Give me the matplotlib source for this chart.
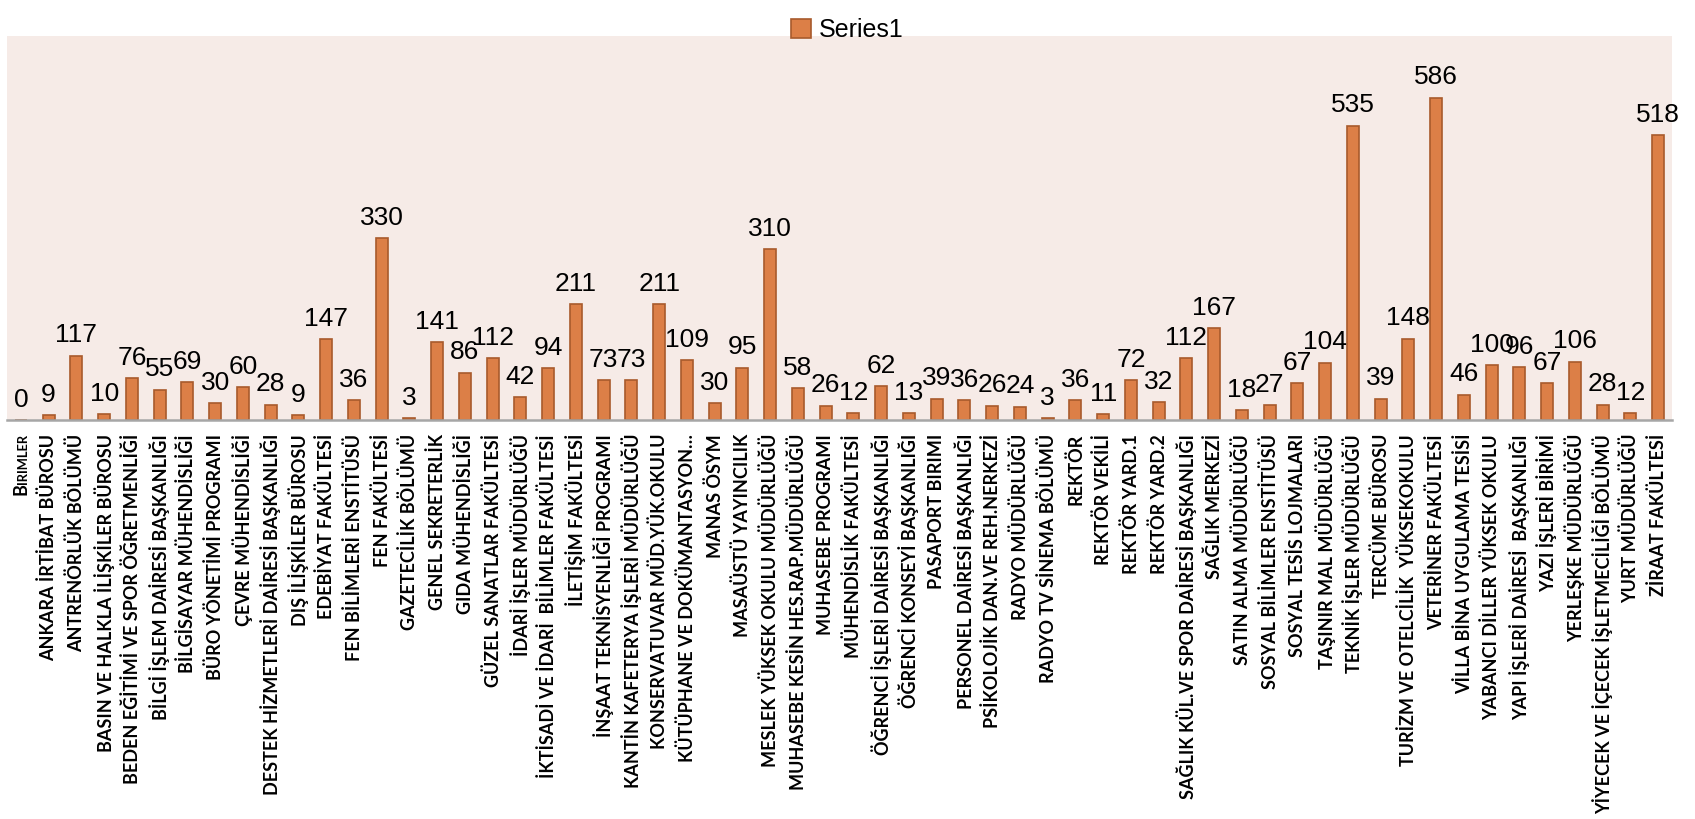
import matplotlib
matplotlib.use("Agg")
import matplotlib.pyplot as plt
from matplotlib.transforms import offset_copy
import numpy as np

# one bar per unit
units = [
    "BIRIMLER", "ANKARA İRTİBAT BÜROSU", "ANTRENÖRLÜK BÖLÜMÜ",
    "BASIN VE HALKLA İLİŞKİLER BÜROSU", "BEDEN EĞİTİMİ VE SPOR ÖĞRETMENLİĞİ",
    "BİLGİ İŞLEM DAİRESİ BAŞKANLIĞI", "BİLGİSAYAR MÜHENDİSLİĞİ",
    "BÜRO YÖNETİMİ PROGRAMI", "ÇEVRE MÜHENDİSLİĞİ",
    "DESTEK HİZMETLERİ DAİRESİ BAŞKANLIĞI", "DIŞ İLİŞKİLER BÜROSU",
    "EDEBİYAT FAKÜLTESİ", "FEN BİLİMLERİ ENSTİTÜSÜ", "FEN FAKÜLTESİ",
    "GAZETECİLİK BÖLÜMÜ", "GENEL SEKRETERLİK", "GIDA MÜHENDİSLİĞİ",
    "GÜZEL SANATLAR FAKÜLTESİ", "İDARİ İŞLER MÜDÜRLÜĞÜ",
    "İKTİSADİ VE İDARİ  BİLİMLER FAKÜLTESİ", "İLETİŞİM FAKÜLTESİ",
    "İNŞAAT TEKNİSYENLİĞİ PROGRAMI", "KANTİN KAFETERYA İŞLERİ MÜDÜRLÜĞÜ",
    "KONSERVATUVAR MÜD.YÜK.OKULU", "KÜTÜPHANE VE DOKÜMANTASYON…",
    "MANAS ÖSYM", "MASAÜSTÜ YAYINCILIK", "MESLEK YÜKSEK OKULU MÜDÜRLÜĞÜ",
    "MUHASEBE KESİN HES.RAP.MÜDÜRLÜĞÜ", "MUHASEBE PROGRAMI",
    "MÜHENDİSLİK FAKÜLTESİ", "ÖĞRENCİ İŞLERİ DAİRESİ BAŞKANLIĞI",
    "ÖĞRENCİ KONSEYİ BAŞKANLIĞI", "PASAPORT BIRIMI",
    "PERSONEL DAİRESİ BAŞKANLIĞI", "PSİKOLOJİK DAN.VE REH.NERKEZİ",
    "RADYO MÜDÜRLÜĞÜ", "RADYO TV SİNEMA BÖLÜMÜ", "REKTÖR", "REKTÖR VEKİLİ",
    "REKTÖR YARD.1", "REKTÖR YARD.2", "SAĞLIK KÜL.VE SPOR DAİRESİ BAŞKANLIĞI",
    "SAĞLIK MERKEZİ", "SATIN ALMA MÜDÜRLÜĞÜ", "SOSYAL BİLİMLER ENSTİTÜSÜ",
    "SOSYAL TESİS LOJMALARI", "TAŞINIR MAL MÜDÜRLÜĞÜ", "TEKNİK İŞLER MÜDÜRLÜĞÜ",
    "TERCÜME BÜROSU", "TURİZM VE OTELCİLİK  YÜKSEKOKULU", "VETERİNER FAKÜLTESİ",
    "VİLLA BİNA UYGULAMA TESİSİ", "YABANCI DİLLER YÜKSEK OKULU",
    "YAPI İŞLERİ DAİRESİ  BAŞKANLIĞI", "YAZI İŞLERİ BİRİMİ",
    "YERLEŞKE MÜDÜRLÜĞÜ", "YİYECEK VE İÇECEK İŞLETMECİLİĞİ BÖLÜMÜ",
    "YURT MÜDÜRLÜĞÜ", "ZİRAAT FAKÜLTESİ",
]
series1 = [
    0, 9, 117, 10, 76, 55, 69, 30, 60, 28, 9, 147, 36, 330, 3, 141, 86, 112,
    42, 94, 211, 73, 73, 211, 109, 30, 95, 310, 58, 26, 12, 62, 13, 39, 36,
    26, 24, 3, 36, 11, 72, 32, 112, 167, 18, 27, 67, 104, 535, 39, 148, 586,
    46, 100, 96, 67, 106, 28, 12, 518,
]

fig = plt.figure(figsize=(16.95, 8.19), dpi=100)
ax = fig.add_axes([7 / 1695, 1 - 420 / 819, 1665 / 1695, 384 / 819])
ax.set_facecolor("#F6EBE7")

x = np.arange(len(units))
bars = ax.bar(x, series1, width=0.43, color="#DC7F47", edgecolor="#A85A2C",
              linewidth=1.2, label="Series1", zorder=2)

for xi, v in zip(x, series1):
    ax.annotate(str(v), (xi, v), xytext=(0, 6), textcoords="offset points",
                ha="center", va="bottom", fontsize=19,
                family="Liberation Sans", color="black")

ax.set_xlim(-0.5, len(units) - 0.5)
ax.set_ylim(0, 698)
ax.set_yticks([])
ax.set_xticks(x)
ax.set_xticklabels(units, rotation=90, family="Lato", fontweight="bold",
                   fontsize=12)
ax.tick_params(axis="x", length=0, pad=10)

# size the labels so the "DESTEK ..." one is about as long as in the picture (~360 px)
r = fig.canvas.get_renderer()
h = ax.get_xticklabels()[9].get_window_extent(r).height
fs = 12 * 360 / h

# first label is small caps in the original: text reads upwards, so the
# small "IRIMLER" sits next to the axis and the big "B" below it
first = units[0]
ax.set_xticklabels([""] + units[1:])
for t in ax.get_xticklabels():
    t.set_fontsize(fs)
tr = ax.get_xaxis_transform()
rest = ax.text(0, 0, first[1:], transform=offset_copy(tr, fig=fig, x=2, y=-14, units="dots"),
               rotation=90, ha="center", va="top",
               family="Lato", fontweight="bold", fontsize=fs * 0.72)
hr = rest.get_window_extent(r).height
ax.text(0, 0, first[0], transform=offset_copy(tr, fig=fig, x=0, y=-14 - hr + 1, units="dots"),
        rotation=90, ha="center", va="top",
        family="Lato", fontweight="bold", fontsize=fs)

for s in ["top", "left", "right"]:
    ax.spines[s].set_visible(False)
ax.spines["bottom"].set_color("#A6A6A6")
ax.spines["bottom"].set_linewidth(1.8)

leg = fig.legend(handles=[bars], labels=["Series1"], loc="upper center",
                 bbox_to_anchor=(0.5, 1.005), frameon=False,
                 prop={"family": "Liberation Sans", "size": 18},
                 handlelength=0.8, handleheight=0.8, handletextpad=0.3)

fig.savefig("out.png", dpi=100)
